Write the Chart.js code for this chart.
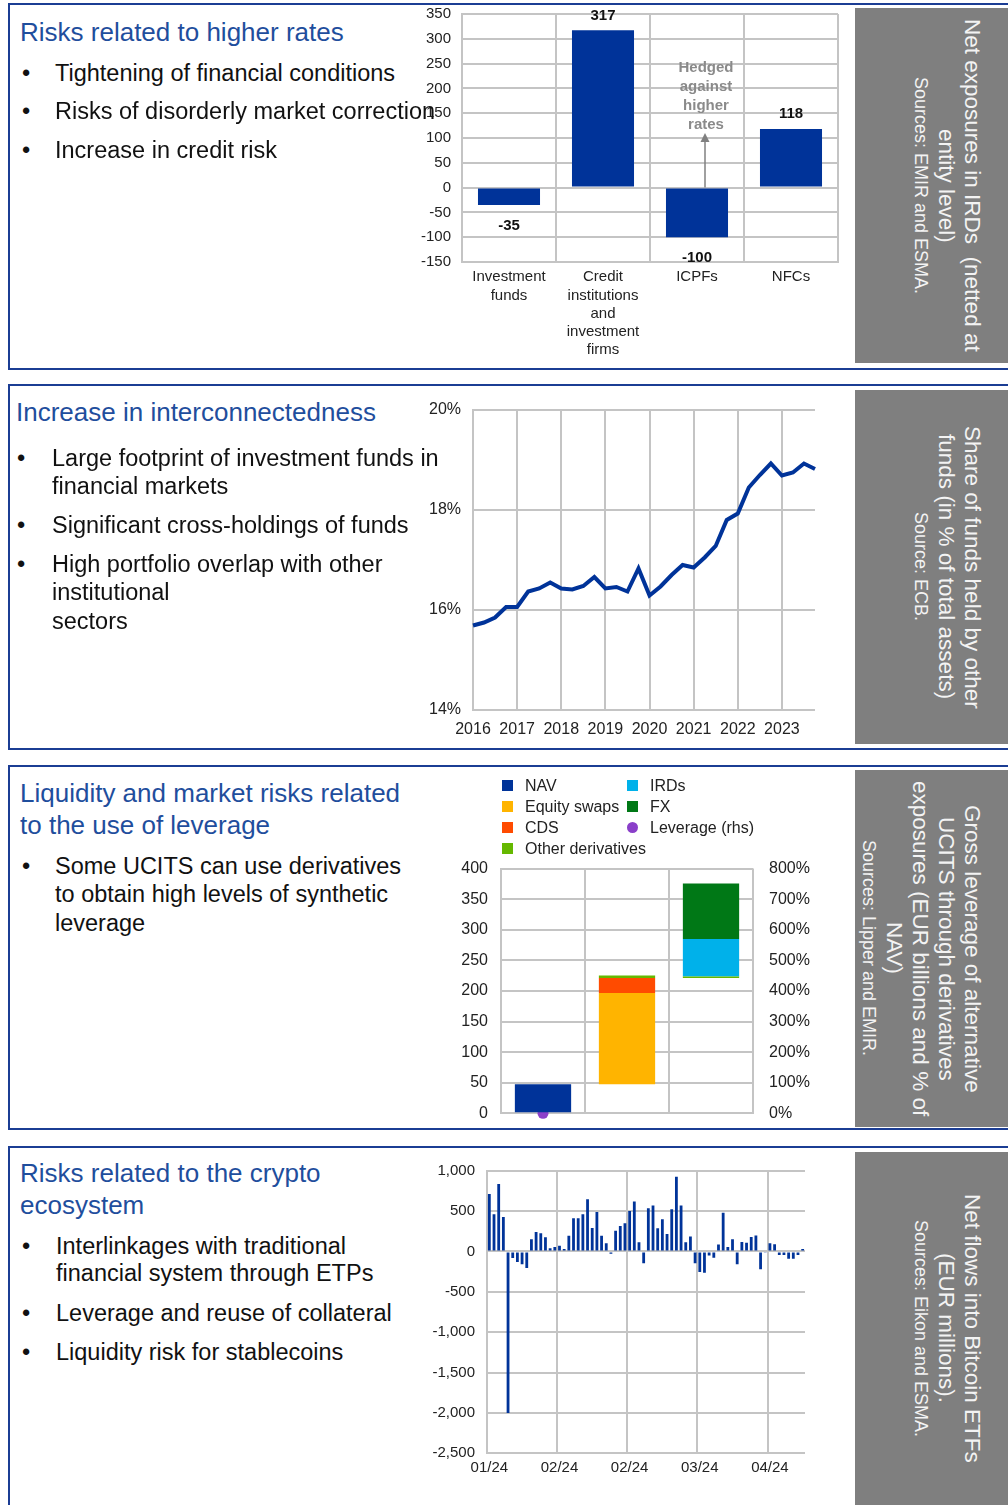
<!DOCTYPE html>
<html>
<head>
<meta charset="utf-8">
<script src="https://cdn.jsdelivr.net/npm/chart.js@4.4.1/dist/chart.umd.min.js"></script>
<style>
body { margin:0; width:1008px; height:1505px; position:relative; overflow:hidden; background:#fff; font-family:"Liberation Sans", Arial, sans-serif; }
.panel { position:absolute; left:8px; width:1010px; border:2.5px solid #1b3d94; box-sizing:border-box; }
.side { position:absolute; left:855px; width:153px; background:#7f7f7f; color:#f3f3f3; display:flex; align-items:center; justify-content:flex-end; padding-right:23px; box-sizing:border-box; }
.side div { writing-mode:vertical-rl; text-align:center; font-size:18px; line-height:25px; white-space:nowrap; }
.side .st { font-size:22.5px; }
canvas { position:absolute; z-index:2; }
.t { position:absolute; white-space:nowrap; line-height:30px; z-index:3; }
.h { color:#1f4e9d; font-size:26px; }
.b { color:#111; font-size:23.5px; }
#lev-legend { position:absolute; left:502px; top:775px; z-index:3; display:grid; grid-template-rows:repeat(4, 21px); grid-template-columns:125px 140px; grid-auto-flow:column; font-size:16px; color:#222; }
#lev-legend span { display:flex; align-items:center; white-space:nowrap; }
#lev-legend i { display:inline-block; flex-shrink:0; width:11px; height:11px; margin-right:12px; }
</style>
</head>
<body>

<div class="panel" style="top:3px;height:367px"></div>
<div class="panel" style="top:384px;height:366px"></div>
<div class="panel" style="top:765px;height:365px"></div>
<div class="panel" style="top:1146px;height:400px"></div>

<div class="side" style="top:8px;height:355px"><div><span class="st">Net exposures in IRDs&nbsp; (netted at<br>entity level)</span><br>Sources: EMIR and ESMA.</div></div>
<div class="side" style="top:390px;height:354px"><div><span class="st">Share of funds held by other<br>funds (in % of total assets)</span><br>Source: ECB.</div></div>
<div class="side" style="top:770px;height:357px"><div><span class="st">Gross leverage of alternative<br>UCITS through derivatives<br>exposures (EUR billions and % of<br>NAV)</span><br>Sources: Lipper and EMIR.</div></div>
<div class="side" style="top:1152px;height:353px"><div><span class="st">Net flows into Bitcoin ETFs<br>(EUR millions).</span><br>Sources: Eikon and ESMA.</div></div>

<!-- panel 1 text -->
<div class="t h" style="left:20px;top:17px">Risks related to higher rates</div>
<div class="t b" style="left:22px;top:58px">•</div><div class="t b" style="left:55px;top:58px">Tightening of financial conditions</div>
<div class="t b" style="left:22px;top:96px">•</div><div class="t b" style="left:55px;top:96px">Risks of disorderly market correction</div>
<div class="t b" style="left:22px;top:135px">•</div><div class="t b" style="left:55px;top:135px">Increase in credit risk</div>

<!-- panel 2 text -->
<div class="t h" style="left:16px;top:397px">Increase in interconnectedness</div>
<div class="t b" style="left:17px;top:443px">•</div><div class="t b" style="left:52px;top:443px">Large footprint of investment funds in</div>
<div class="t b" style="left:52px;top:471px">financial markets</div>
<div class="t b" style="left:17px;top:510px">•</div><div class="t b" style="left:52px;top:510px">Significant cross-holdings of funds</div>
<div class="t b" style="left:17px;top:549px">•</div><div class="t b" style="left:52px;top:549px">High portfolio overlap with other</div>
<div class="t b" style="left:52px;top:577px">institutional</div>
<div class="t b" style="left:52px;top:606px">sectors</div>

<!-- panel 3 text -->
<div class="t h" style="left:20px;top:778px">Liquidity and market risks related</div>
<div class="t h" style="left:20px;top:810px">to the use of leverage</div>
<div class="t b" style="left:22px;top:851px">•</div><div class="t b" style="left:55px;top:851px">Some UCITS can use derivatives</div>
<div class="t b" style="left:55px;top:879px">to obtain high levels of synthetic</div>
<div class="t b" style="left:55px;top:908px">leverage</div>

<!-- panel 4 text -->
<div class="t h" style="left:20px;top:1158px">Risks related to the crypto</div>
<div class="t h" style="left:20px;top:1190px">ecosystem</div>
<div class="t b" style="left:22px;top:1231px">•</div><div class="t b" style="left:56px;top:1231px">Interlinkages with traditional</div>
<div class="t b" style="left:56px;top:1258px">financial system through ETPs</div>
<div class="t b" style="left:22px;top:1298px">•</div><div class="t b" style="left:56px;top:1298px">Leverage and reuse of collateral</div>
<div class="t b" style="left:22px;top:1337px">•</div><div class="t b" style="left:56px;top:1337px">Liquidity risk for stablecoins</div>

<canvas id="c1" width="440" height="368" style="left:410px;top:0px"></canvas>
<canvas id="c2" width="420" height="350" style="left:420px;top:395px"></canvas>
<div id="lev-legend"></div>
<canvas id="c3" width="420" height="360" style="left:420px;top:770px"></canvas>
<canvas id="c4" width="400" height="345" style="left:420px;top:1155px"></canvas>

<script>
// --- data: net IRD exposures (EUR bn) ---
const rateCats = [['Investment', 'funds'], ['Credit', 'institutions', 'and', 'investment', 'firms'], 'ICPFs', 'NFCs'];
const rateValues = [-35, 317, -100, 118];
const hedgeNote = ['Hedged', 'against', 'higher', 'rates'];
const hedgeNoteTop = 242;   // value level of first note line
const hedgeArrowTop = 110;  // value level where the arrow ends

// --- data: share of funds held by other funds (%) ---
const shareYears = ['2016', '2017', '2018', '2019', '2020', '2021', '2022', '2023'];
const shareValues = [15.69, 15.75, 15.85, 16.06, 16.06, 16.37, 16.43, 16.55,
                     16.43, 16.41, 16.48, 16.66, 16.43, 16.46, 16.37, 16.83,
                     16.29, 16.47, 16.70, 16.90, 16.85, 17.05, 17.28, 17.80,
                     17.93, 18.45, 18.70, 18.93, 18.69, 18.75, 18.93, 18.82];
const shareQuarters = shareYears.flatMap(y => ['Q1', 'Q2', 'Q3', 'Q4'].map(q => y + q));

// --- data: leverage of alternative UCITS (EUR bn, floating bars) ---
const levCats = ['NAV', 'Equity swaps and CDS', 'IRDs and FX'];
const navBars = [[0, 47.5], null, null];
const eqSwapBars = [null, [47.5, 196.5], null];
const cdsBars = [null, [196.5, 221], null];
const otherBars = [null, [221, 225], [221, 223.5]];
const irdBars = [null, null, [223.5, 285]];
const fxBars = [null, null, [285, 375.5]];
const leverage = [0, 371, 684];

// --- data: net flows into Bitcoin ETFs (EUR mn) ---
const flowValues = [710, 460, 835, 428, -2000, -80, -130, -160, -205, 150,
                    240, 225, 175, 40, 55, 70, 30, 195, 410, 410,
                    460, 645, 290, 490, 195, 100, -30, 255, 315, 350,
                    500, 617, 115, -145, 535, 568, 288, 400, 215, 523,
                    925, 568, 115, 185, -145, -255, -265, -50, -78, 85,
                    478, 55, 150, -160, 118, 108, 178, 198, -220, -15,
                    100, 88, -45, -45, -92, -92, -45, 30];
const flowDays = flowValues.map((_, i) => 'Day ' + (i + 1));
const flowTickLabels = ['01/24', '02/24', '02/24', '03/24', '04/24'];
const flowTickEvery = 15;

const ECB_BLUE = '#003399';
const GRID = '#c4c4c4';

Chart.defaults.font.family = "'Liberation Sans', Arial, sans-serif";
Chart.defaults.color = '#222';
Chart.defaults.animation = false;
Chart.defaults.plugins.legend.display = false;
Chart.defaults.plugins.tooltip.enabled = false;

// pin axis sizes so the plot areas land where the reference has them
const fixWidth = w => s => { s.width = w; s.paddingTop = 0; s.paddingBottom = 0; };
const fixHeight = h => s => { s.height = h; s.paddingLeft = 0; s.paddingRight = 0; };

// value labels and the hedging note on the first chart
const rateLabels = {
    id: 'rateLabels',
    afterDatasetsDraw(chart) {
        const ctx = chart.ctx;
        const meta = chart.getDatasetMeta(0);
        const ys = chart.scales.y;
        ctx.save();
        ctx.font = "bold 15px 'Liberation Sans', Arial";
        ctx.fillStyle = '#111';
        ctx.textAlign = 'center';
        ctx.textBaseline = 'middle';
        meta.data.forEach((bar, i) => {
            const v = rateValues[i];
            ctx.fillText(String(v), bar.x, v >= 0 ? bar.y - 15 : bar.y + 21);
        });

        const x = meta.data[2].x + 8;
        const y0 = ys.getPixelForValue(0);
        const y1 = ys.getPixelForValue(hedgeArrowTop);
        ctx.strokeStyle = '#808080';
        ctx.fillStyle = '#808080';
        ctx.lineWidth = 1.5;
        ctx.beginPath(); ctx.moveTo(x, y0); ctx.lineTo(x, y1 + 8); ctx.stroke();
        ctx.beginPath(); ctx.moveTo(x, y1); ctx.lineTo(x - 4.5, y1 + 9); ctx.lineTo(x + 4.5, y1 + 9); ctx.closePath(); ctx.fill();

        ctx.fillStyle = '#8a8a8a';
        let ty = ys.getPixelForValue(hedgeNoteTop);
        hedgeNote.forEach(line => { ctx.fillText(line, x + 1, ty); ty += 19; });
        ctx.restore();
    }
};

new Chart(document.getElementById('c1'), {
    type: 'bar',
    data: {
        labels: rateCats,
        datasets: [{ data: rateValues, backgroundColor: ECB_BLUE, barPercentage: 0.66, categoryPercentage: 1 }]
    },
    options: {
        responsive: false,
        layout: { padding: { top: 14, right: 12 } },
        scales: {
            x: {
                grid: { color: GRID, lineWidth: 2, drawTicks: false },
                border: { color: GRID, width: 2 },
                ticks: { font: { size: 15, lineHeight: 1.22 }, padding: 6, maxRotation: 0, autoSkip: false },
                afterFit: fixHeight(106)
            },
            y: {
                min: -150, max: 350,
                ticks: { stepSize: 50, font: { size: 15 }, padding: 11 },
                grid: { color: GRID, lineWidth: 2, drawTicks: false },
                border: { color: GRID, width: 2 },
                afterFit: fixWidth(52)
            }
        }
    },
    plugins: [rateLabels]
});

new Chart(document.getElementById('c2'), {
    type: 'line',
    data: {
        labels: shareQuarters,
        datasets: [{ data: shareValues, borderColor: ECB_BLUE, borderWidth: 4, pointRadius: 0, tension: 0, fill: false }]
    },
    options: {
        responsive: false,
        layout: { padding: { top: 15, right: 25 } },
        scales: {
            x: {
                offset: false,
                grid: { color: c => c.index % 4 === 0 ? GRID : 'transparent', lineWidth: 2, drawTicks: false },
                border: { display: false },
                ticks: { autoSkip: false, maxRotation: 0, font: { size: 16 }, padding: 10,
                         callback: (v, i) => i % 4 === 0 ? shareYears[i / 4] : '' },
                afterFit: fixHeight(35)
            },
            y: {
                min: 14, max: 20,
                ticks: { stepSize: 2, font: { size: 16 }, padding: 12, callback: v => v + '%' },
                grid: { color: GRID, lineWidth: 2, drawTicks: false },
                border: { color: GRID, width: 2 },
                afterFit: fixWidth(53)
            }
        }
    }
});

const levChart = new Chart(document.getElementById('c3'), {
    type: 'bar',
    data: {
        labels: levCats,
        datasets: [
            { label: 'NAV', data: navBars, backgroundColor: '#003399' },
            { label: 'Equity swaps', data: eqSwapBars, backgroundColor: '#ffb400' },
            { label: 'CDS', data: cdsBars, backgroundColor: '#ff4b00' },
            { label: 'Other derivatives', data: otherBars, backgroundColor: '#65b800' },
            { label: 'IRDs', data: irdBars, backgroundColor: '#00b1ea' },
            { label: 'FX', data: fxBars, backgroundColor: '#007816' },
            { type: 'line', label: 'Leverage (rhs)', data: leverage, yAxisID: 'y2', showLine: false,
              pointRadius: 5.5, pointBackgroundColor: '#8a3fc9', pointBorderWidth: 0, backgroundColor: '#8a3fc9', clip: false }
        ]
    },
    options: {
        responsive: false,
        datasets: { bar: { barPercentage: 0.67, categoryPercentage: 1 } },
        layout: { padding: { top: 98.5 } },
        scales: {
            x: {
                stacked: true,
                grid: { color: GRID, lineWidth: 2, drawTicks: false },
                border: { color: GRID, width: 2 },
                ticks: { display: false },
                afterFit: fixHeight(16.7)
            },
            y: {
                min: 0, max: 400,
                ticks: { stepSize: 50, font: { size: 16 }, padding: 13 },
                grid: { color: GRID, lineWidth: 2, drawTicks: false },
                border: { color: GRID, width: 2 },
                afterFit: fixWidth(81)
            },
            y2: {
                position: 'right',
                min: 0, max: 800,
                ticks: { stepSize: 100, font: { size: 16 }, padding: 16, callback: v => v + '%' },
                grid: { drawOnChartArea: false, drawTicks: false },
                border: { display: false },
                afterFit: fixWidth(87)
            }
        }
    }
});

// two-column legend for the leverage chart
const legendBox = document.getElementById('lev-legend');
levChart.data.datasets.forEach(ds => {
    const item = document.createElement('span');
    const mark = document.createElement('i');
    mark.style.background = ds.backgroundColor;
    if (ds.type === 'line') mark.style.borderRadius = '50%';
    item.appendChild(mark);
    item.appendChild(document.createTextNode(ds.label));
    legendBox.appendChild(item);
});

new Chart(document.getElementById('c4'), {
    type: 'bar',
    data: {
        labels: flowDays,
        datasets: [{ data: flowValues, backgroundColor: ECB_BLUE, barPercentage: 0.6, categoryPercentage: 1 }]
    },
    options: {
        responsive: false,
        layout: { padding: { top: 15.7, right: 15 } },
        scales: {
            x: {
                grid: { color: c => c.index % flowTickEvery === 0 ? GRID : 'transparent', lineWidth: 2, drawTicks: false },
                border: { display: false },
                ticks: { autoSkip: false, maxRotation: 0, font: { size: 15 }, padding: 6,
                         callback: (v, i) => i % flowTickEvery === 0 ? flowTickLabels[i / flowTickEvery] : '' },
                afterFit: fixHeight(46.7)
            },
            y: {
                min: -2500, max: 1000,
                ticks: { stepSize: 500, font: { size: 15 }, padding: 12, callback: v => v.toLocaleString('en-US') },
                grid: { color: GRID, lineWidth: 2, drawTicks: false },
                border: { color: GRID, width: 2 },
                afterFit: fixWidth(67)
            }
        }
    }
});
</script>
</body>
</html>
